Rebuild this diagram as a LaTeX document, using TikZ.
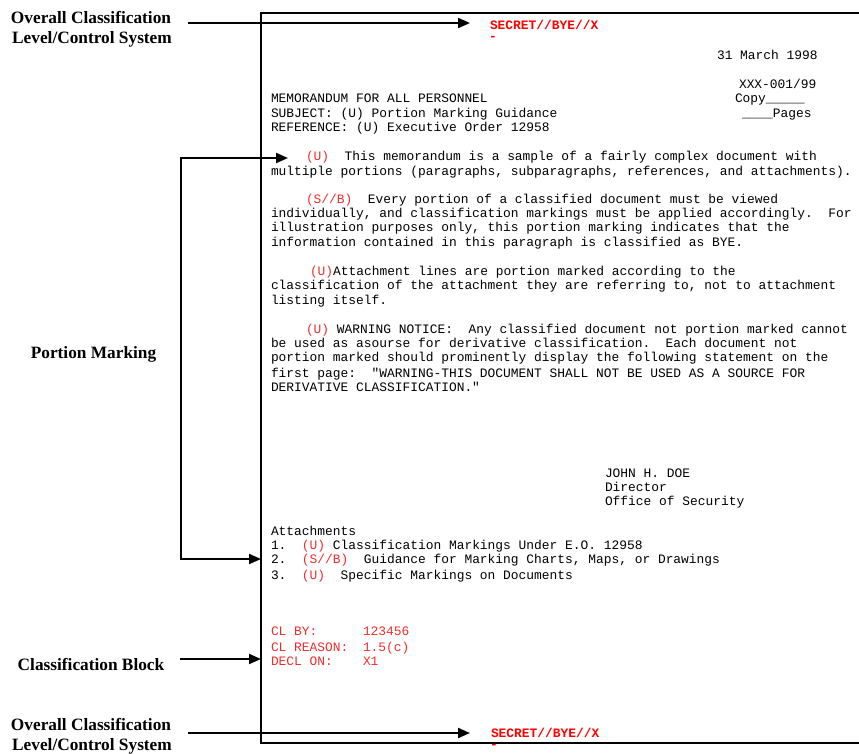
\documentclass[tikz,border=0pt]{standalone}
\usepackage{fontspec}
\usetikzlibrary{arrows.meta}
\newfontfamily\docmono{Liberation Mono}
\newfontfamily\lblserif{Liberation Serif}
\definecolor{markred}{RGB}{238,45,45}
\definecolor{bannerred}{RGB}{255,0,0}
\newcommand\mk[1]{\textcolor{markred}{#1}}
\newcommand\qt{\char34}
\begin{document}
\begin{tikzpicture}[x=1pt,y=-1pt,
  doc/.style={anchor=base west, inner sep=0pt, outer sep=0pt,
    font=\docmono\fontsize{12.9}{14}\selectfont\frenchspacing},
  red doc/.style={doc, text=markred},
  banner/.style={doc, text=bannerred, font=\docmono\bfseries\fontsize{12.9}{14}\selectfont},
  lbl/.style={anchor=base, inner sep=0pt, outer sep=0pt,
    font=\lblserif\bfseries\fontsize{17.3}{20}\selectfont},
  frameline/.style={line width=2pt, line join=miter},
  arr/.style={line width=2pt, line join=miter, -{Triangle[length=12pt,width=10pt]}},
  arr2/.style={line width=2pt, line join=miter,
    {Triangle[length=12pt,width=10pt]}-{Triangle[length=12pt,width=10pt]}}]
\useasboundingbox (0,0) rectangle (859,753);

% page frame (open on the right)
\draw[frameline] (859,13) -- (261,13) -- (261,743) -- (859,743);

% left-hand labels
\node[lbl] (ocTop1) at (91,23.5) {Overall Classification};
\node[lbl] (ocTop2) at (92,43.5) {Level/Control System};
\node[lbl] (pm) at (93.5,358.5) {Portion Marking};
\node[lbl] (cb) at (91,670.5) {Classification Block};
\node[lbl] (ocBot1) at (91,730.5) {Overall Classification};
\node[lbl] (ocBot2) at (92,750.5) {Level/Control System};

% banners
\node[banner] (secTop) at (490,29) {SECRET//BYE//X};
\node[banner] (dashTop) at (489,40) {-};
\node[banner] (secBot) at (491,737) {SECRET//BYE//X};
\node[banner] (dashBot) at (490,748) {-};

% heading block
\node[doc] (date) at (717,59) {31 March 1998};
\node[doc] (ctrl) at (739,88) {XXX-001/99};
\node[doc] (memo) at (271,102) {MEMORANDUM FOR ALL PERSONNEL};
\node[doc] (copy) at (735,102) {Copy\_\_\_\_\_};
\node[doc] (subj) at (271,117) {SUBJECT: (U) Portion Marking Guidance};
\node[doc] (pages) at (742,117) {\_\_\_\_Pages};
\node[doc] (ref) at (271,131) {REFERENCE: (U) Executive Order 12958};

% paragraph 1
\node[doc] (p1a) at (306,160) {\mk{(U)}\ \ This memorandum is a sample of a fairly complex document with};
\node[doc] (p1b) at (271,175) {multiple portions (paragraphs, subparagraphs, references, and attachments).};

% paragraph 2
\node[doc] (p2a) at (306,203) {\mk{(S//B)}\ \ Every portion of a classified document must be viewed};
\node[doc] (p2b) at (271,217) {individually, and classification markings must be applied accordingly.\ \ For};
\node[doc] (p2c) at (271,231) {illustration purposes only, this portion marking indicates that the};
\node[doc] (p2d) at (271,246) {information contained in this paragraph is classified as BYE.};

% paragraph 3
\node[doc] (p3a) at (310,275) {\mk{(U)}Attachment lines are portion marked according to the};
\node[doc] (p3b) at (271,289) {classification of the attachment they are referring to, not to attachment};
\node[doc] (p3c) at (271,304) {listing itself.};

% paragraph 4
\node[doc] (p4a) at (306,333) {\mk{(U)} WARNING NOTICE:\ \ Any classified document not portion marked cannot};
\node[doc] (p4b) at (271,347) {be used as asourse for derivative classification.\ \ Each document not};
\node[doc] (p4c) at (271,361) {portion marked should prominently display the following statement on the};
\node[doc] (p4d) at (271,377) {first page:\ \ \qt WARNING-THIS DOCUMENT SHALL NOT BE USED AS A SOURCE FOR};
\node[doc] (p4e) at (271,391) {DERIVATIVE CLASSIFICATION.\qt};

% signature
\node[doc] (sig1) at (605,477) {JOHN H. DOE};
\node[doc] (sig2) at (605,491) {Director};
\node[doc] (sig3) at (605,505) {Office of Security};

% attachments
\node[doc] (att) at (271,535) {Attachments};
\node[doc] (att1) at (271,549) {1.\ \ \mk{(U)} Classification Markings Under E.O. 12958};
\node[doc] (att2) at (271,563) {2.\ \ \mk{(S//B)}\ \ Guidance for Marking Charts, Maps, or Drawings};
\node[doc] (att3) at (271,579) {3.\ \ \mk{(U)}\ \ Specific Markings on Documents};

% classification block
\node[red doc] (clby) at (271,635) {CL BY:};
\node[red doc] (clbyv) at (363,635) {123456};
\node[red doc] (clrs) at (271,651) {CL REASON:};
\node[red doc] (clrsv) at (363,651) {1.5(c)};
\node[red doc] (decl) at (271,665) {DECL ON:};
\node[red doc] (declv) at (363,665) {X1};

% connector end points
\coordinate (topFrom) at (188,23);
\coordinate (topTo) at (470,23);
\coordinate (botFrom) at (188,733);
\coordinate (botTo) at (470,733);
\coordinate (cbFrom) at (180,659);
\coordinate (cbTo) at (261,659);
\coordinate (pmTopTip) at (288,158);
\coordinate (pmCorner) at (181,559);
\coordinate (pmBotTip) at (261,559);

% connectors
\draw[arr] (topFrom) -- (topTo);
\draw[arr] (botFrom) -- (botTo);
\draw[arr] (cbFrom) -- (cbTo);
\draw[arr2] (pmTopTip) -| (pmCorner) -- (pmBotTip);
\end{tikzpicture}
\end{document}
